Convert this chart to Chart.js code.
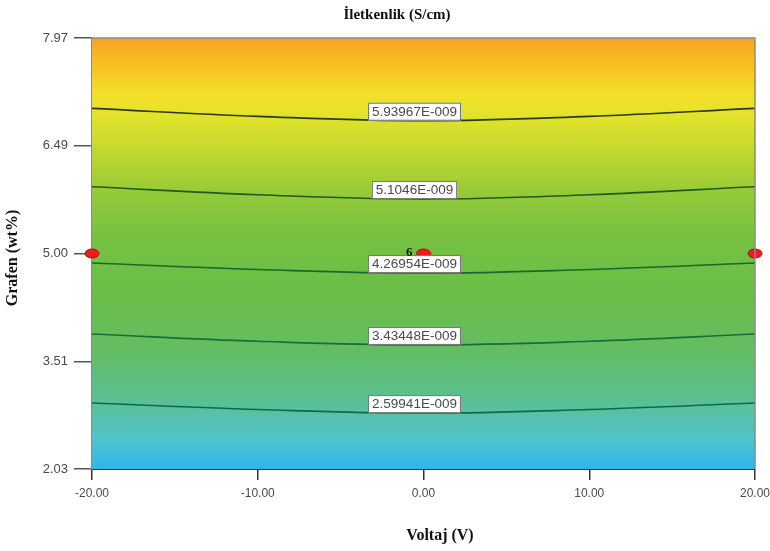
<!DOCTYPE html>
<html>
<head>
<meta charset="utf-8">
<script src="https://cdn.jsdelivr.net/npm/chart.js@4.4.1/dist/chart.umd.min.js"></script>
<style>
  html, body { margin: 0; padding: 0; background: #fff; }
  #wrap { width: 770px; height: 551px; }
</style>
</head>
<body>
<div id="wrap"><canvas id="contourChart" width="770" height="551"></canvas></div>
<script>
// Voltaj (V) positions where each contour is read
const voltaj = [-20, -10, 0, 10, 20];

// Grafen (wt%) level of each contour line
const contour1 = [7.00, 6.89, 6.83, 6.89, 7.00];
const contour2 = [5.92, 5.81, 5.75, 5.81, 5.92];
const contour3 = [4.87, 4.78, 4.73, 4.78, 4.87];
const contour4 = [3.89, 3.79, 3.74, 3.79, 3.89];
const contour5 = [2.94, 2.85, 2.80, 2.85, 2.94];
const contourLabels = ["5.93967E-009", "5.1046E-009", "4.26954E-009", "3.43448E-009", "2.59941E-009"];

// design points
const designX = [-20, 0, 20];
const designY = [5.00, 5.00, 5.00];
const centerCount = "6";

// tick labels
const xTicks = [-20, -10, 0, 10, 20];
const yTicks = [2.03, 3.51, 5.00, 6.49, 7.97];

const titleText = "İletkenlik (S/cm)";
const xTitle = "Voltaj (V)";
const yTitle = "Grafen (wt%)";

// red ellipse marker
function makeMarker() {
  const c = document.createElement("canvas");
  c.width = 16; c.height = 11;
  const g = c.getContext("2d");
  g.beginPath();
  g.ellipse(8, 5.5, 7, 4.5, 0, 0, Math.PI * 2);
  g.fillStyle = "#ee1c1c";
  g.fill();
  g.strokeStyle = "#a50f0f";
  g.lineWidth = 1;
  g.stroke();
  return c;
}

const contours = [contour1, contour2, contour3, contour4, contour5];
const lineColors = ["#2b3a1a", "#1f5a26", "#156b2e", "#13703a", "#0e6a45"];

const datasets = contours.map((vals, i) => ({
  label: contourLabels[i],
  data: voltaj.map((v, j) => ({ x: v, y: vals[j] })),
  showLine: true,
  borderColor: lineColors[i],
  borderWidth: 1.6,
  pointRadius: 0,
  tension: 0.4,
  fill: false
}));

datasets.push({
  label: "design",
  data: designX.map((v, j) => ({ x: v, y: designY[j] })),
  showLine: false,
  pointStyle: makeMarker(),
  clip: false
});

// background gradient behind the contours
const gradientBg = {
  id: "gradientBg",
  beforeDatasetsDraw(chart) {
    const { ctx, chartArea: a } = chart;
    const gr = ctx.createLinearGradient(0, a.top, 0, a.bottom);
    gr.addColorStop(0.00, "#f5a524");
    gr.addColorStop(0.07, "#f8c320");
    gr.addColorStop(0.13, "#f3e02a");
    gr.addColorStop(0.18, "#e3e32b");
    gr.addColorStop(0.26, "#c2d82e");
    gr.addColorStop(0.36, "#95ca38");
    gr.addColorStop(0.46, "#77c141");
    gr.addColorStop(0.60, "#6bbd4a");
    gr.addColorStop(0.72, "#64bd62");
    gr.addColorStop(0.84, "#5bbf92");
    gr.addColorStop(0.93, "#51c3cc");
    gr.addColorStop(1.00, "#2cb6ee");
    ctx.save();
    ctx.fillStyle = gr;
    ctx.fillRect(a.left, a.top, a.right - a.left, a.bottom - a.top);
    ctx.restore();
  },
  afterDatasetsDraw(chart) {
    const { ctx, chartArea: a } = chart;
    ctx.save();
    // frame top/right
    ctx.strokeStyle = "#8a8a8a";
    ctx.lineWidth = 1.5;
    ctx.beginPath();
    ctx.moveTo(a.left, a.top);
    ctx.lineTo(a.right, a.top);
    ctx.lineTo(a.right, a.bottom);
    ctx.stroke();

    // contour labels
    ctx.font = "13.5px 'Liberation Sans', Arial, sans-serif";
    ctx.textAlign = "center";
    ctx.textBaseline = "middle";
    contours.forEach((vals, i) => {
      const pt = chart.getDatasetMeta(i).data[2];
      const w = ctx.measureText(contourLabels[i]).width + 8;
      const h = 18;
      const cx = pt.x - 9;
      const top = pt.y - h;
      ctx.fillStyle = "#ffffff";
      ctx.fillRect(cx - w / 2, top, w, h);
      ctx.strokeStyle = "#6e6e6e";
      ctx.lineWidth = 1;
      ctx.strokeRect(cx - w / 2 + 0.5, top + 0.5, w - 1, h - 1);
      ctx.fillStyle = "#4a4a4a";
      ctx.fillText(contourLabels[i], cx, top + h / 2 + 0.5);
    });

    // center count
    const c = chart.getDatasetMeta(contours.length).data[1];
    ctx.font = "bold 13px 'Liberation Serif', serif";
    ctx.fillStyle = "#111";
    ctx.textAlign = "right";
    ctx.textBaseline = "alphabetic";
    ctx.fillText(centerCount, c.x - 11, c.y + 2);
    ctx.restore();
  },
  afterDraw(chart) {
    const { ctx } = chart;
    ctx.save();
    ctx.fillStyle = "#111";
    ctx.textAlign = "center";
    ctx.textBaseline = "middle";
    ctx.font = "bold 15px 'Liberation Serif', 'Times New Roman', serif";
    ctx.fillText(titleText, 397, 15);
    ctx.font = "bold 16px 'Liberation Serif', 'Times New Roman', serif";
    ctx.fillText(xTitle, 440, 536);
    ctx.translate(13, 258);
    ctx.rotate(-Math.PI / 2);
    ctx.fillText(yTitle, 0, 0);
    ctx.restore();
  }
};

new Chart(document.getElementById("contourChart"), {
  type: "scatter",
  data: { datasets },
  options: {
    responsive: false,
    animation: false,
    layout: { padding: { top: 38, right: 15, left: 0, bottom: 0 } },
    plugins: {
      legend: { display: false },
      tooltip: { enabled: false }
    },
    scales: {
      x: {
        type: "linear",
        min: -20,
        max: 20,
        afterBuildTicks: (s) => { s.ticks = xTicks.map(v => ({ value: v })); },
        afterFit: (s) => { s.height = 82; s.paddingLeft = 0; s.paddingRight = 0; },
        ticks: {
          callback: (v) => Number(v).toFixed(2),
          color: "#4a4a4a",
          font: { family: "'Liberation Sans', Arial, sans-serif", size: 12 },
          padding: 6,
          maxRotation: 0
        },
        grid: { display: true, drawOnChartArea: false, drawTicks: true, tickLength: 11, color: "#333", lineWidth: 1.5 },
        border: { display: true, color: "#333", width: 2 }
      },
      y: {
        type: "linear",
        min: 2.03,
        max: 7.97,
        afterBuildTicks: (s) => { s.ticks = yTicks.map(v => ({ value: v })); },
        afterFit: (s) => { s.width = 92; s.paddingTop = 0; s.paddingBottom = 0; },
        ticks: {
          callback: (v) => Number(v).toFixed(2),
          color: "#4a4a4a",
          font: { family: "'Liberation Sans', Arial, sans-serif", size: 13 },
          padding: 6
        },
        grid: { display: true, drawOnChartArea: false, drawTicks: true, tickLength: 18, color: "#555", lineWidth: 1.5 },
        border: { display: true, color: "#8a8a8a", width: 1.5 }
      }
    }
  },
  plugins: [gradientBg]
});
</script>
</body>
</html>
